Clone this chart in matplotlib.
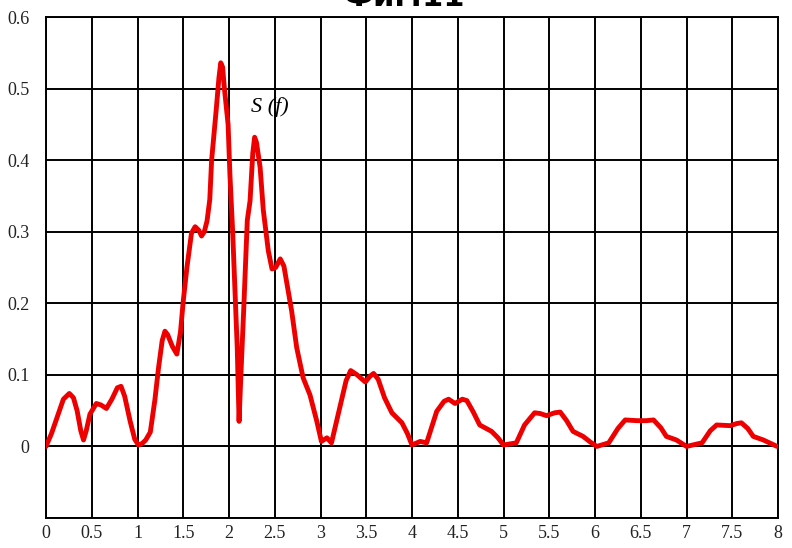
import numpy as np
import matplotlib.pyplot as plt

# spectrum S(f)
f = [0.0, 0.06, 0.12, 0.19, 0.255, 0.30, 0.34, 0.38, 0.41, 0.44, 0.48, 0.55, 0.60,
     0.66, 0.72, 0.78, 0.82, 0.86, 0.92, 0.97, 1.01, 1.05, 1.09, 1.14, 1.19, 1.23,
     1.27, 1.30, 1.33, 1.38, 1.43, 1.47, 1.50, 1.54, 1.59, 1.63, 1.67, 1.70, 1.73,
     1.76, 1.79, 1.81, 1.86, 1.89, 1.91, 1.93, 1.95, 1.99, 2.01, 2.04, 2.07, 2.09,
     2.11, 2.13, 2.16, 2.20, 2.23, 2.26, 2.28, 2.30, 2.34, 2.375, 2.43, 2.47,
     2.51, 2.56, 2.60, 2.63, 2.685, 2.74, 2.81, 2.885, 2.96, 3.01, 3.07, 3.12,
     3.21, 3.28, 3.33, 3.40, 3.49, 3.54, 3.58, 3.63, 3.70, 3.78, 3.89, 3.95, 4.0,
     4.09, 4.16, 4.27, 4.35, 4.40, 4.47, 4.55, 4.60, 4.67, 4.74, 4.87, 4.94, 5.0,
     5.14, 5.23, 5.34, 5.40, 5.47, 5.56, 5.62, 5.69, 5.76, 5.87, 5.95, 6.02, 6.15,
     6.25, 6.33, 6.46, 6.56, 6.64, 6.72, 6.78, 6.89, 7.0, 7.17, 7.26, 7.33, 7.48,
     7.55, 7.60, 7.67, 7.73, 7.84, 7.99]
s = [0.0, 0.018, 0.040, 0.066, 0.074, 0.068, 0.050, 0.022, 0.009, 0.022, 0.045,
     0.060, 0.058, 0.053, 0.066, 0.082, 0.084, 0.070, 0.035, 0.010, 0.002, 0.004,
     0.009, 0.020, 0.065, 0.110, 0.148, 0.161, 0.156, 0.140, 0.129, 0.160, 0.203,
     0.250, 0.298, 0.307, 0.302, 0.294, 0.300, 0.315, 0.345, 0.40, 0.47, 0.515,
     0.536, 0.530, 0.50, 0.45, 0.38, 0.30, 0.203, 0.138, 0.035, 0.10, 0.189, 0.316,
     0.343, 0.41, 0.432, 0.425, 0.39, 0.33, 0.273, 0.248, 0.250, 0.262, 0.252,
     0.230, 0.189, 0.138, 0.096, 0.072, 0.035, 0.007, 0.012, 0.005, 0.054, 0.092,
     0.106, 0.100, 0.090, 0.098, 0.102, 0.094, 0.068, 0.047, 0.033, 0.018, 0.002,
     0.007, 0.005, 0.049, 0.063, 0.066, 0.060, 0.066, 0.064, 0.048, 0.030, 0.021,
     0.012, 0.002, 0.005, 0.030, 0.047, 0.046, 0.043, 0.047, 0.048, 0.036, 0.021,
     0.014, 0.006, 0.0, 0.005, 0.025, 0.037, 0.036, 0.036, 0.037, 0.026, 0.014,
     0.009, 0.0, 0.005, 0.022, 0.030, 0.029, 0.032, 0.033, 0.025, 0.014, 0.009,
     0.0]

xticks = np.arange(0, 8.01, 0.5)
xlabels = ['0', '0.5', '1', '1.5', '2', '2.5', '3', '3.5', '4', '4.5', '5', '5.5',
           '6', '6.5', '7', '7.5', '8']
yticks = [-0.1, 0, 0.1, 0.2, 0.3, 0.4, 0.5, 0.6]
ylabels = ['', '0', '0.1', '0.2', '0.3', '0.4', '0.5', '0.6']

fig = plt.figure(figsize=(7.92, 5.48), dpi=100)
ax = fig.add_axes([46/792, 1-518/548, 732/792, 501/548])

ax.plot(f, s, color='#ee0000', lw=3.5, solid_joinstyle='round',
        solid_capstyle='round', zorder=3)

ax.set_xlim(0, 8)
ax.set_ylim(-0.1, 0.6)
ax.set_xticks(xticks)
ax.set_xticklabels(xlabels)
ax.set_yticks(yticks)
ax.set_yticklabels(ylabels)
ax.grid(True, color='black', lw=1.4)
ax.tick_params(axis='x', length=0, pad=5, labelsize=13, labelcolor='#222222')
ax.tick_params(axis='y', length=0, pad=12, labelsize=13, labelcolor='#222222')
for lab in ax.get_xticklabels() + ax.get_yticklabels():
    lab.set_family('Liberation Serif')
for sp in ax.spines.values():
    sp.set_linewidth(1.4)

ax.text(2.45, 0.474, 'S (f)', family='Liberation Serif', style='italic',
        fontsize=16, ha='center', va='center')

# title, cut off by the top edge in the original
fig.text(0.51, 1 - 12/548, 'Фиг.11', fontsize=22, fontweight='bold',
         ha='center', va='bottom')

fig.savefig('out.png', dpi=100)
